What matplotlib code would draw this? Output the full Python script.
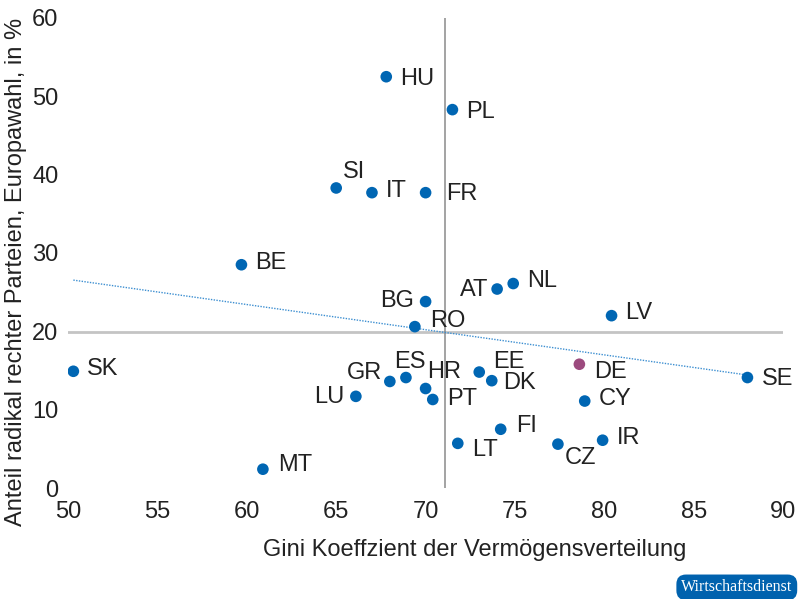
import numpy as np
import matplotlib
matplotlib.use("Agg")
import matplotlib.pyplot as plt

countries = ["HU", "PL", "SI", "IT", "FR", "BE", "BG", "AT", "NL", "LV", "RO",
             "SK", "GR", "ES", "HR", "PT", "LU", "EE", "DK", "DE", "SE", "CY",
             "FI", "LT", "CZ", "IR", "MT"]
gini = [67.8, 71.5, 65.0, 67.0, 70.0, 59.7, 70.0, 74.0, 74.9, 80.4, 69.4,
        50.3, 68.0, 68.9, 70.0, 70.4, 66.1, 73.0, 73.7, 78.6, 88.0, 78.9,
        74.2, 71.8, 77.4, 79.9, 60.9]
right_share = [52.5, 48.3, 38.3, 37.7, 37.7, 28.5, 23.8, 25.4, 26.1, 22.0, 20.6,
               14.9, 13.6, 14.1, 12.7, 11.3, 11.7, 14.8, 13.7, 15.8, 14.1, 11.1,
               7.5, 5.7, 5.6, 6.1, 2.4]

# label offsets in pixels (dx, dy up), horizontal alignment
offsets = {
    "HU": (14, -2, "left"), "PL": (14, -2, "left"), "SI": (7, 16, "left"),
    "IT": (14, 2, "left"), "FR": (21, -1, "left"), "BE": (14, 2, "left"),
    "BG": (-12, 1, "right"), "AT": (-9, -1, "right"), "NL": (14, 3, "left"),
    "LV": (14, 3, "left"), "RO": (15, 6, "left"), "SK": (14, 2, "left"),
    "GR": (-8, 8, "right"), "ES": (-12, 16, "left"), "HR": (2, 17, "left"),
    "PT": (14, 0, "left"), "LU": (-11, -1, "right"), "EE": (14, 10, "left"),
    "DK": (11, -2, "left"), "DE": (15, -8, "left"), "SE": (14, -1, "left"),
    "CY": (14, 2, "left"), "FI": (15, 3, "left"), "LT": (14, -7, "left"),
    "CZ": (7, -14, "left"), "IR": (14, 2, "left"), "MT": (15, 4, "left"),
}

blue = "#0066b3"
purple = "#9c4a7e"
font = ["Liberation Sans", "DejaVu Sans"]

plt.rcParams["font.family"] = font

fig = plt.figure(figsize=(8, 5.99), dpi=100)
ax = fig.add_axes([0.085, 0.1853, 0.894, 0.7847])

x = np.array(gini)
y = np.array(right_share)

# mean lines
ax.axhline(y.mean(), color="#c4c4c4", lw=2, zorder=1)
ax.axvline(x.mean(), color="#8a8a8a", lw=1.1, zorder=1)

# linear trend
slope, intercept = np.polyfit(x, y, 1)
xs = np.array([x.min(), x.max()])
ax.plot(xs, intercept + slope * xs, color="#3d8fd1", lw=1, ls=(0, (1, 1)), zorder=2)

colors = [purple if c == "DE" else blue for c in countries]
ax.scatter(x, y, s=70, c=colors, edgecolors="none", zorder=3)

for c, xi, yi in zip(countries, gini, right_share):
    dx, dy, ha = offsets[c]
    ax.annotate(c, (xi, yi), xytext=(dx, dy), textcoords="offset pixels",
                ha=ha, va="center", fontsize=17, color="#222222")

ax.set_xlim(50, 90)
ax.set_ylim(0, 60)
ax.set_xticks(range(50, 91, 5))
ax.set_yticks(range(0, 61, 10))
ax.tick_params(length=0, labelsize=17, colors="#222222")
ax.tick_params(axis="x", pad=9)
ax.tick_params(axis="y", pad=7)
for s in ax.spines.values():
    s.set_visible(False)

ax.set_xlabel("Gini Koeffzient der Vermögensverteilung", fontsize=17,
              color="#222222")
ax.xaxis.set_label_coords(0.569, -0.108)
ax.set_ylabel("Anteil radikal rechter Parteien, Europawahl, in %", fontsize=17,
              color="#222222")
ax.yaxis.set_label_coords(-0.058, 0.46)

fig.text(0.921, 0.0195, "Wirtschaftsdienst", family=["Liberation Serif", "DejaVu Serif"],
         fontsize=11.5, color="white", ha="center", va="center",
         bbox=dict(boxstyle="round,pad=0.3,rounding_size=0.6", fc="#0062ae", ec="none"))

fig.savefig("out.png", dpi=100)
